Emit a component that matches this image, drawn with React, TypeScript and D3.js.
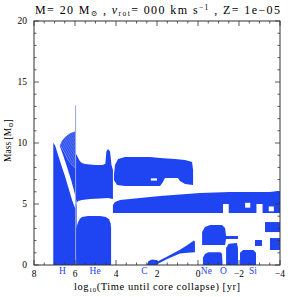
import React from 'react';
import * as d3 from 'd3';

// convective zones, [log10(time until collapse) , mass in Msun]
const hPhaseZone: [number, number][] = [
  [7.06, 0], [7.06, 10.0], [6.98, 9.84], [6.88, 9.75], [6.73, 9.84],
  [6.54, 9.26], [6.34, 8.61], [6.15, 8.2], [5.98, 7.95],
  [5.97, 9.2], [5.85, 8.8], [5.76, 8.5], [5.66, 8.36], [5.51, 8.28], [5.02, 8.2],
  [4.65, 8.2], [4.52, 8.3], [4.47, 9.3], [4.39, 9.5], [4.29, 9.3], [4.22, 8.2],
  [4.15, 7.8], [4.15, 5.4], [4.39, 5.5], [4.78, 5.45], [5.27, 5.4], [5.66, 5.33],
  [5.85, 5.25], [5.92, 5.1], [5.92, 0],
];
const hPhaseGap: [number, number][] = [
  [7.0, 9.95], [6.78, 9.95], [6.58, 9.0], [6.38, 8.0], [6.18, 6.9], [6.05, 6.1],
  [5.96, 5.5], [5.92, 5.1], [5.98, 4.6], [6.14, 5.3], [6.3, 6.2], [6.49, 7.3], [6.69, 8.3], [6.88, 9.3],
];
const hShellHatched: [number, number][] = [
  [6.73, 9.84], [6.63, 10.2], [6.44, 10.55], [6.24, 10.8], [6.0, 10.95], [5.98, 10.95],
  [5.98, 7.95], [6.15, 8.2], [6.34, 8.61], [6.54, 9.26],
];
const heCore: [number, number][] = [
  [5.95, 0], [5.95, 3.0], [5.85, 3.5], [5.76, 3.8], [5.66, 3.93], [5.37, 4.02],
  [4.78, 4.02], [4.49, 3.93], [4.34, 3.75], [4.26, 3.4], [4.24, 3.0], [4.24, 0],
];
const spike: [number, number][] = [[5.97, 0], [5.97, 13.1]];
const cShell: [number, number][] = [
  [4.10, 7.38], [4.05, 8.2], [3.90, 8.69], [3.56, 8.85], [2.34, 8.85], [1.85, 8.77],
  [1.12, 8.69], [0.63, 8.61], [0.29, 8.44], [0.24, 7.79], [0.24, 6.56], [0.63, 6.64],
  [0.88, 6.89], [0.98, 7.13], [1.61, 7.13], [1.71, 6.8], [1.85, 6.48], [3.56, 6.48],
  [3.95, 6.56], [4.10, 6.97],
];
const cShellHoles: [number, number][][] = [
  [[2.3, 7.1], [2.0, 7.1], [2.0, 6.92], [2.3, 6.92]],
];
const longBand: [number, number][] = [
  [4.15, 4.92], [4.05, 5.16], [3.80, 5.33], [2.83, 5.49], [1.85, 5.66], [0.88, 5.78],
  [-0.10, 5.90], [-1.56, 5.98], [-3.51, 5.98], [-3.90, 6.07], [-4.0, 6.0],
  [-4.0, 4.26], [4.15, 4.26],
];
const bandHoles: [number, number][][] = [
  [[-1.22, 5.0], [-1.5, 5.0], [-1.5, 4.26], [-1.22, 4.26]],
  [[-2.3, 5.1], [-2.55, 5.1], [-2.55, 4.7], [-2.3, 4.7]],
  [[-2.85, 5.0], [-3.15, 5.0], [-3.15, 4.26], [-2.85, 4.26]],
  [[-3.45, 4.8], [-3.7, 4.8], [-3.7, 4.4], [-3.45, 4.4]],
];
const cCore: [number, number][] = [
  [2.49, 0], [2.42, 0.3], [2.25, 0.45], [2.05, 0.4], [1.95, 0.3], [1.5, 0.7],
  [0.88, 1.25], [0.55, 1.6], [0.2, 2.0], [0.15, 1.9], [0.15, 1.05], [0.5, 1.0],
  [0.88, 0.95], [1.5, 0.5], [1.95, 0.1], [2.0, 0],
];
const neShell: [number, number][] = [
  [-0.20, 1.64], [-0.20, 2.70], [-0.34, 3.11], [-0.59, 3.28], [-1.17, 3.28],
  [-1.32, 3.03], [-1.37, 2.38], [-1.95, 2.38], [-1.95, 2.13], [-1.37, 2.13], [-1.32, 1.64],
];
const neCore: [number, number][] = [
  [-0.24, 0], [-0.24, 0.6], [-0.34, 0.9], [-0.5, 1.05], [-1.1, 1.05], [-1.17, 0.9], [-1.2, 0],
];
const oCore: [number, number][] = [
  [-1.37, 0], [-1.37, 1.4], [-1.5, 1.75], [-1.9, 1.8], [-1.95, 1.4], [-1.95, 0],
];
const siCore: [number, number][] = [
  [-2.05, 0], [-2.05, 1.0], [-2.2, 1.23], [-2.7, 1.23], [-2.83, 1.0], [-2.83, 0],
];
const lateBits: [number, number][][] = [
  [[-3.27, 3.52], [-4.0, 3.52], [-4.0, 2.7], [-3.27, 2.7]],
  [[-3.51, 2.21], [-4.0, 2.21], [-4.0, 1.23], [-3.51, 1.23]],
  [[-2.78, 2.05], [-3.12, 2.05], [-3.12, 1.56], [-2.78, 1.56]],
];

const xTicks = [8, 6, 4, 2, 0, -2, -4];
const yTicks = [0, 5, 10, 15, 20];
const burningLabels = [
  { name: 'H', t: 6.61 }, { name: 'He', t: 5.02 }, { name: 'C', t: 2.61 },
  { name: 'Ne', t: -0.41 }, { name: 'O', t: -1.24 }, { name: 'Si', t: -2.68 },
];

const W = 300, H = 297;
const x = d3.scaleLinear().domain([8, -4]).range([34, 280]);
const y = d3.scaleLinear().domain([0, 20]).range([265, 21]);
const area = d3.line<[number, number]>().x(d => x(d[0])).y(d => y(d[1])).curve(d3.curveLinearClosed);
const BLUE = '#1f44f2';
const FONT = '"Liberation Serif", "DejaVu Serif", serif';

const App = () => {
  const xMinor = d3.range(-4, 8.01, 0.5);
  const yMinor = d3.range(0, 20.01, 1);
  const fmt = (v: number) => (v < 0 ? '\u2212' + Math.abs(v) : String(v));
  return (
    <svg width={W} height={H} style={{ position: 'absolute', left: 0, top: 0 }} fontFamily={FONT}>
      <defs>
        <pattern id="hatch" width={2} height={2} patternUnits="userSpaceOnUse" patternTransform="rotate(-30)">
          <rect width={2} height={2} fill="#7b90f0" />
          <line x1={0.8} y1={0} x2={0.8} y2={2} stroke={BLUE} strokeWidth={1.3} />
        </pattern>
      </defs>
      <rect width={W} height={H} fill="white" />

      <path d={area(hPhaseZone)!} fill={BLUE} />
      <path d={area(hPhaseGap)!} fill="white" />
      <path d={area(hShellHatched)!} fill="url(#hatch)" />
      <path d={area(heCore)!} fill={BLUE} />
      <path d={area(cShell)!} fill={BLUE} />
      {cShellHoles.map((h, i) => <path key={'ch' + i} d={area(h)!} fill="white" />)}
      <path d={area(longBand)!} fill={BLUE} />
      {bandHoles.map((h, i) => <path key={'bh' + i} d={area(h)!} fill="white" />)}
      <path d={area(cCore)!} fill={BLUE} />
      <path d={area(neShell)!} fill={BLUE} />
      <path d={area(neCore)!} fill={BLUE} />
      <path d={area(oCore)!} fill={BLUE} />
      <path d={area(siCore)!} fill={BLUE} />
      {lateBits.map((h, i) => <path key={'lb' + i} d={area(h)!} fill={BLUE} />)}
      <line x1={x(spike[0][0])} x2={x(spike[1][0])} y1={y(spike[0][1])} y2={y(spike[1][1])} stroke="#98a3e0" strokeWidth={1} />

      {/* frame and ticks */}
      <rect x={x(8)} y={y(20)} width={x(-4) - x(8)} height={y(0) - y(20)} fill="none" stroke="#333" strokeWidth={1} />
      {xMinor.map(v => {
        const len = Math.abs(v % 2) < 1e-6 ? 5 : 2.5;
        return (
          <g key={'xt' + v} stroke="#333" strokeWidth={0.8}>
            <line x1={x(v)} x2={x(v)} y1={y(0)} y2={y(0) - len} />
            <line x1={x(v)} x2={x(v)} y1={y(20)} y2={y(20) + len} />
          </g>
        );
      })}
      {yMinor.map(v => {
        const len = v % 5 === 0 ? 5 : 2.5;
        return (
          <g key={'yt' + v} stroke="#333" strokeWidth={0.8}>
            <line x1={x(8)} x2={x(8) + len} y1={y(v)} y2={y(v)} />
            <line x1={x(-4)} x2={x(-4) - len} y1={y(v)} y2={y(v)} />
          </g>
        );
      })}
      {xTicks.map(v => (
        <text key={'xl' + v} x={x(v)} y={277} textAnchor="middle" fontSize={9.5}>{fmt(v)}</text>
      ))}
      {yTicks.map(v => (
        <text key={'yl' + v} x={27} y={y(v) + 3} textAnchor="end" fontSize={9.5}>{v}</text>
      ))}
      {burningLabels.map(b => (
        <text key={b.name} x={x(b.t)} y={274} textAnchor="middle" fontSize={9.5} fill={BLUE}>{b.name}</text>
      ))}

      <text x={157} y={290} textAnchor="middle" fontSize={10.5} textLength={166} lengthAdjust="spacing">
        log<tspan fontSize={6.5} dy={2}>10</tspan><tspan dy={-2}>(Time until core collapse) [yr]</tspan>
      </text>
      <text transform={`translate(11, ${y(10.2)}) rotate(-90)`} textAnchor="middle" fontSize={9.5}>
        Mass [M<tspan fontSize={6.5} dy={2}>⊙</tspan><tspan dy={-2}>]</tspan>
      </text>
      <text x={157.5} y={14} textAnchor="middle" fontSize={12} textLength={245} lengthAdjust="spacing">
        M= 20 M<tspan fontSize={7.5} dy={2}>⊙</tspan><tspan dy={-2}> , </tspan>
        <tspan fontStyle="italic">v</tspan><tspan fontSize={7.5} dy={2}>rot</tspan>
        <tspan dy={-2}>= 000 km s</tspan><tspan fontSize={7.5} dy={-4}>−1</tspan>
        <tspan dy={4}> , Z= 1e−05</tspan>
      </text>
    </svg>
  );
};

export default App;
